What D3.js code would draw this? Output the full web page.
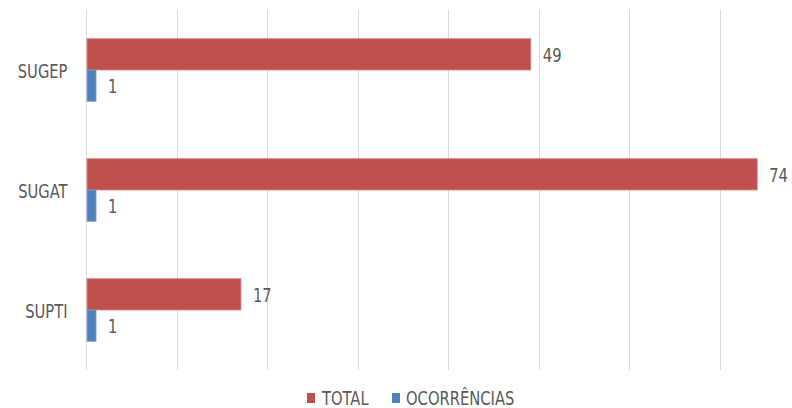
<!DOCTYPE html>
<html>
<head>
<meta charset="utf-8">
<script src="https://cdn.jsdelivr.net/npm/d3@7"></script>
<style>
  html, body { margin: 0; padding: 0; background: #fff; }
  svg { display: block; }
  text { font-family: "DejaVu Sans Condensed", "Liberation Sans Narrow", "Liberation Sans", sans-serif; fill: #595959; }
</style>
</head>
<body>
<svg id="chart" width="792" height="408"></svg>
<script>
const categories = ["SUGEP", "SUGAT", "SUPTI"];
const seriesNames = ["TOTAL", "OCORRÊNCIAS"];
const totalValues = [49, 74, 17];
const ocorrenciasValues = [1, 1, 1];
const tickValues = [0, 10, 20, 30, 40, 50, 60, 70];
const colors = ["#C0504D", "#4F81BD"];
const strokes = ["#D98583", "#7FA3D1"];

const svg = d3.select("#chart");
const plot = { left: 86, right: 720, top: 10, bottom: 370 };
const SX = 0.84; // horizontal compression of text (narrow face)
const FS = 19.5;

const x = d3.scaleLinear().domain([0, 70]).range([plot.left, plot.right]);
const y = d3.scaleBand().domain(categories).range([plot.top, plot.bottom])
  .paddingInner(0.478).paddingOuter(0.239);
const ySub = d3.scaleBand().domain(seriesNames).range([0, y.bandwidth()]);

// gridlines
svg.append("g")
  .selectAll("line")
  .data(tickValues)
  .join("line")
  .attr("x1", d => Math.round(x(d)) + 0.5)
  .attr("x2", d => Math.round(x(d)) + 0.5)
  .attr("y1", plot.top)
  .attr("y2", plot.bottom)
  .attr("stroke", "#D9D9D9")
  .attr("stroke-width", 1);

const data = categories.map((c, i) => ({
  cat: c,
  vals: [
    { s: seriesNames[0], v: totalValues[i], k: 0 },
    { s: seriesNames[1], v: ocorrenciasValues[i], k: 1 }
  ]
}));

const groups = svg.append("g").selectAll("g")
  .data(data).join("g")
  .attr("transform", d => `translate(0,${y(d.cat)})`);

groups.selectAll("rect")
  .data(d => d.vals)
  .join("rect")
  .attr("x", x(0) + 1)
  .attr("y", d => ySub(d.s))
  .attr("width", d => x(d.v) - x(0))
  .attr("height", ySub.bandwidth())
  .attr("fill", d => colors[d.k])
  .attr("stroke", d => strokes[d.k])
  .attr("stroke-width", 0.8);

groups.selectAll("text.val")
  .data(d => d.vals)
  .join("text")
  .attr("class", "val")
  .attr("transform", d => `translate(${x(d.v) + 13},${ySub(d.s) + ySub.bandwidth() / 2 + 7.5}) scale(${SX},1)`)
  .attr("font-size", FS)
  .text(d => d.v);

// category labels
svg.append("g").selectAll("text")
  .data(categories)
  .join("text")
  .attr("transform", d => `translate(67.5,${y(d) + y.bandwidth() / 2 + 8}) scale(${SX},1)`)
  .attr("text-anchor", "end")
  .attr("font-size", FS)
  .text(d => d);

// legend
const legendItems = [
  { name: seriesNames[0], color: colors[0], sx: 307, tx: 322 },
  { name: seriesNames[1], color: colors[1], sx: 392, tx: 406 }
];
const lg = svg.append("g");
lg.selectAll("rect")
  .data(legendItems).join("rect")
  .attr("x", d => d.sx).attr("y", 393)
  .attr("width", 8).attr("height", 10)
  .attr("fill", d => d.color);
lg.selectAll("text")
  .data(legendItems).join("text")
  .attr("transform", d => `translate(${d.tx},405) scale(${SX},1)`)
  .attr("font-size", FS)
  .text(d => d.name);
</script>
</body>
</html>
